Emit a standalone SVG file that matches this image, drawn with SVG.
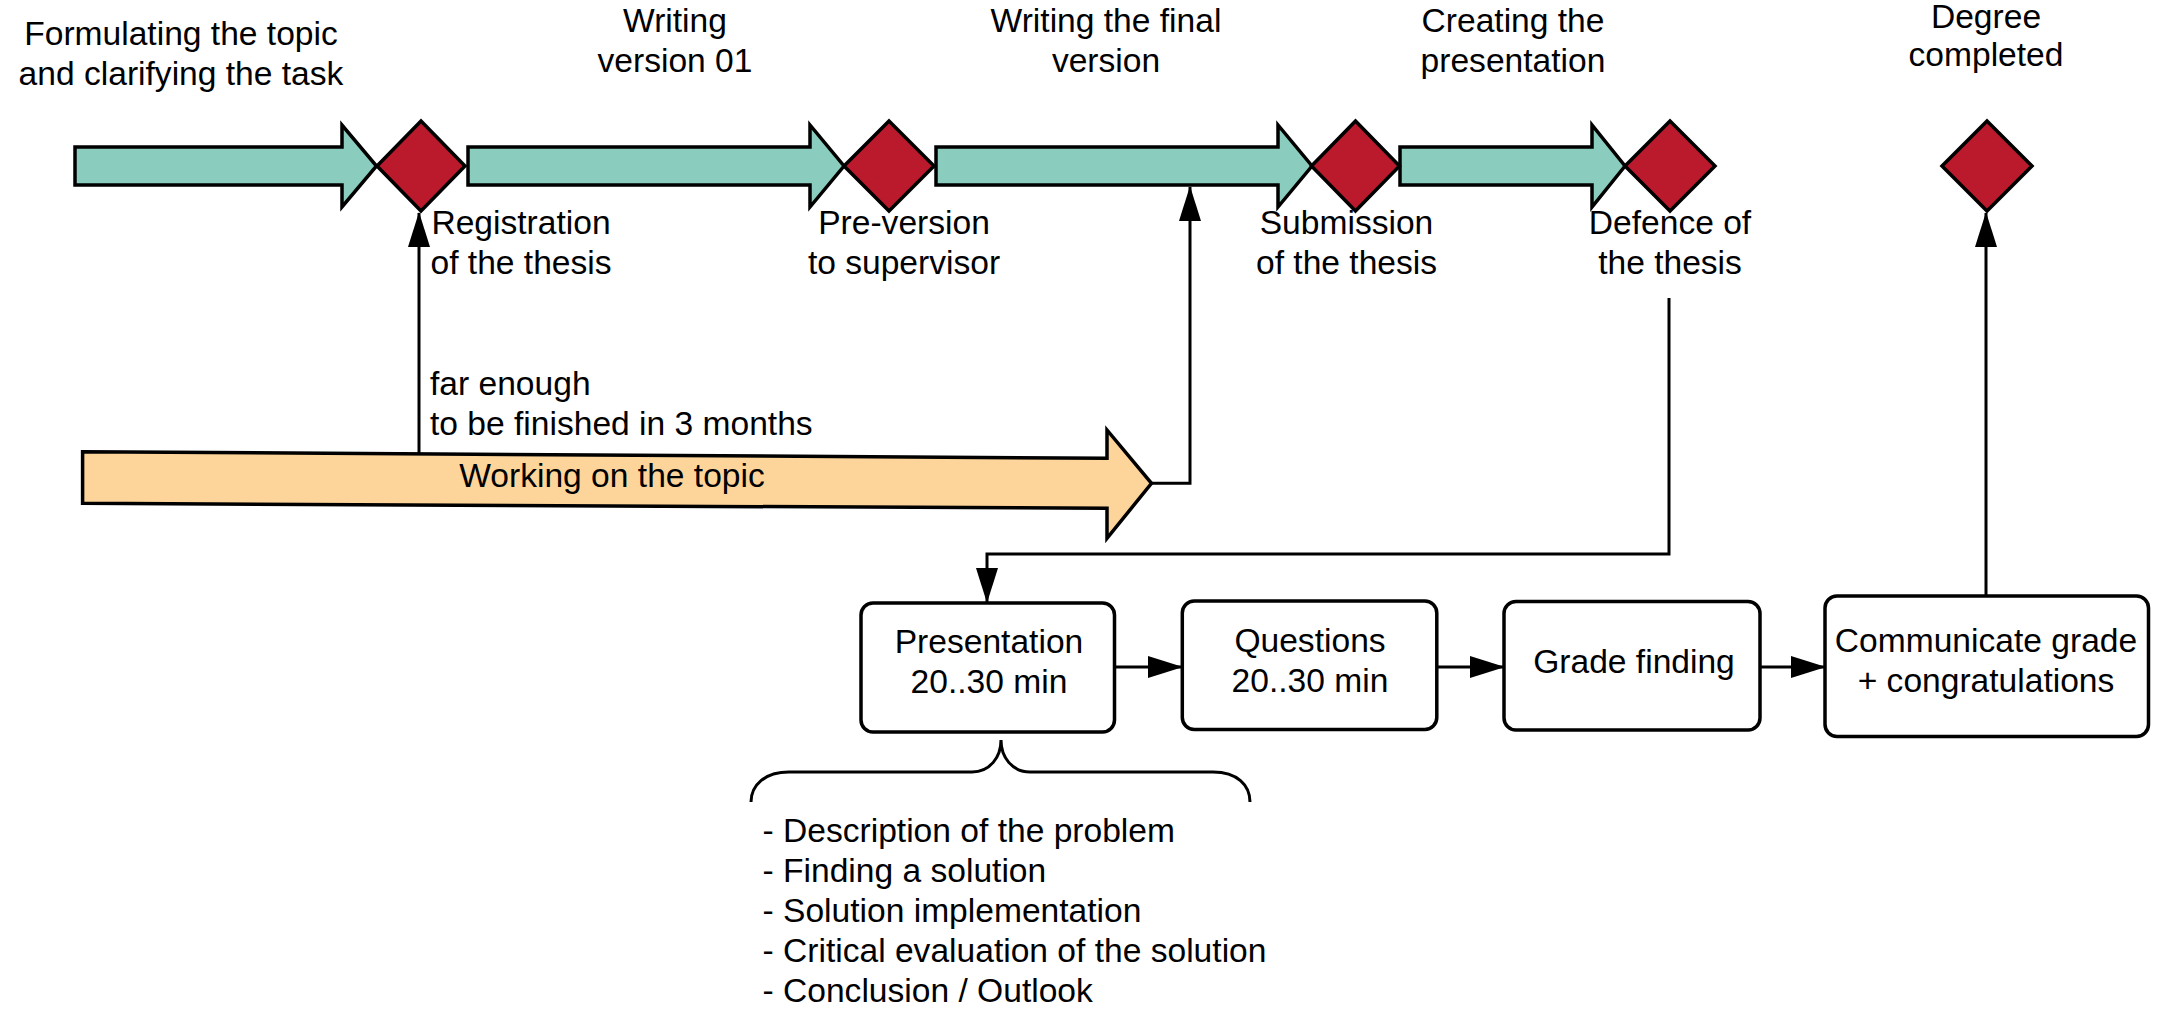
<svg xmlns="http://www.w3.org/2000/svg" width="2162" height="1021" viewBox="0 0 2162 1021">
<style>
text{font-family:"Liberation Sans",Arial,sans-serif;font-size:33.6px;fill:#000}
.c{text-anchor:middle}
.teal{fill:#8ACDBF;stroke:#000;stroke-width:3.5}
.dia{fill:#BA1A2C;stroke:#000;stroke-width:3.5}
.box{fill:#fff;stroke:#000;stroke-width:3.5}
.ln{fill:none;stroke:#000;stroke-width:3}
</style>
<defs>
<marker id="ah" markerUnits="userSpaceOnUse" markerWidth="35" markerHeight="22" viewBox="0 0 35 22" refX="34" refY="11" orient="auto">
<path d="M0,0 L35,11 L0,22 z" fill="#000"/>
</marker>
</defs>
<rect width="2162" height="1021" fill="#fff"/>

<g id="phase1">
<polygon class="teal" points="75,147 342,147 342,125 376.5,166 342,207 342,185 75,185"/>
<text class="c" x="181" y="45">Formulating the topic</text>
<text class="c" x="181" y="85">and clarifying the task</text>
</g>
<g id="phase2">
<polygon class="teal" points="468,147 810,147 810,125 844,166 810,207 810,185 468,185"/>
<text class="c" x="675" y="32">Writing</text>
<text class="c" x="675" y="72">version 01</text>
</g>
<g id="phase3">
<polygon class="teal" points="936,147 1278,147 1278,125 1312,166 1278,207 1278,185 936,185"/>
<text class="c" x="1106" y="32">Writing the final</text>
<text class="c" x="1106" y="72">version</text>
</g>
<g id="phase4">
<polygon class="teal" points="1400,147 1592,147 1592,125 1625,166 1592,207 1592,185 1400,185"/>
<text class="c" x="1513" y="32">Creating the</text>
<text class="c" x="1513" y="72">presentation</text>
</g>

<g id="m1">
<polygon class="dia" points="421,121 465,166 421,211 377,166"/>
<text class="c" x="521" y="234">Registration</text>
<text class="c" x="521" y="274">of the thesis</text>
</g>
<g id="m2">
<polygon class="dia" points="889,121 934,166 889,211 844,166"/>
<text class="c" x="904" y="234">Pre-version</text>
<text class="c" x="904" y="274">to supervisor</text>
</g>
<g id="m3">
<polygon class="dia" points="1355.5,121 1399.5,166 1355.5,211 1311.5,166"/>
<text class="c" x="1346.5" y="234">Submission</text>
<text class="c" x="1346.5" y="274">of the thesis</text>
</g>
<g id="m4">
<polygon class="dia" points="1670,121 1715,166 1670,211 1625,166"/>
<text class="c" x="1670" y="234">Defence of</text>
<text class="c" x="1670" y="274">the thesis</text>
</g>
<g id="m5">
<polygon class="dia" points="1987,121 2032,166 1987,211 1942,166"/>
<text class="c" x="1986" y="28">Degree</text>
<text class="c" x="1986" y="66">completed</text>
</g>

<g id="working">
<polygon points="82.6,451.7 1107,458.3 1107,430 1151.5,483.3 1107,538.3 1107,508.3 82.6,503.3" fill="#FDD59A" stroke="#000" stroke-width="3.5"/>
<text class="c" x="612" y="487">Working on the topic</text>
</g>

<g id="presentation">
<rect class="box" x="861" y="603" width="253.5" height="129" rx="12"/>
<text class="c" x="989" y="653">Presentation</text>
<text class="c" x="989" y="693">20..30 min</text>
</g>
<g id="questions">
<rect class="box" x="1182.3" y="601" width="254.5" height="128.5" rx="12"/>
<text class="c" x="1310" y="652">Questions</text>
<text class="c" x="1310" y="692">20..30 min</text>
</g>
<g id="grade">
<rect class="box" x="1504" y="601.5" width="256" height="128.5" rx="12"/>
<text class="c" x="1634" y="673">Grade finding</text>
</g>
<g id="communicate">
<rect class="box" x="1825" y="596" width="323.5" height="140.5" rx="12"/>
<text class="c" x="1986" y="652">Communicate grade</text>
<text class="c" x="1986" y="692">+ congratulations</text>
</g>

<g id="contents">
<path class="ln" d="M751,802 C751,785 765,772 789,772 L972,772 C990,772 1001,757 1001,740 C1001,757 1012,772 1030,772 L1213,772 C1237,772 1250,785 1250,802"/>
<text x="762.5" y="842">- Description of the problem</text>
<text x="762.5" y="882">- Finding a solution</text>
<text x="762.5" y="922">- Solution implementation</text>
<text x="762.5" y="962">- Critical evaluation of the solution</text>
<text x="762.5" y="1002">- Conclusion / Outlook</text>
</g>

<g id="connectors">
<polyline class="ln" points="419,453 419,213" marker-end="url(#ah)"/>
<text x="430" y="395">far enough</text>
<text x="430" y="435">to be finished in 3 months</text>
<polyline class="ln" points="1151.5,483.3 1190,483.3 1190,187" marker-end="url(#ah)"/>
<polyline class="ln" points="1669,298 1669,554 987,554 987,602" marker-end="url(#ah)"/>
<polyline class="ln" points="1114.5,667 1182,667" marker-end="url(#ah)"/>
<polyline class="ln" points="1437,667 1504,667" marker-end="url(#ah)"/>
<polyline class="ln" points="1760,667 1825,667" marker-end="url(#ah)"/>
<polyline class="ln" points="1986,596 1986,213" marker-end="url(#ah)"/>
</g>
</svg>
